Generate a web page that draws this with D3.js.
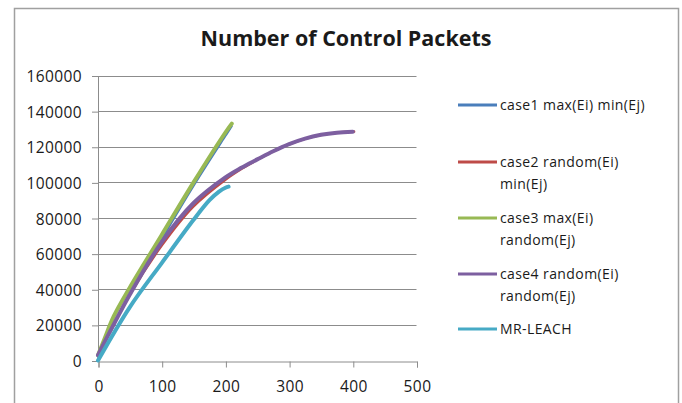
<!DOCTYPE html>
<html>
<head>
<meta charset="utf-8">
<script src="https://cdn.jsdelivr.net/npm/d3@7"></script>
<style>
  html, body { margin: 0; padding: 0; background: #fff; }
  svg { display: block; }
  text { font-family: "Open Sans", "Liberation Sans", Arial, sans-serif; fill: #1a1a1a; }
</style>
</head>
<body>
<svg id="chart" width="682" height="403"></svg>
<script>
// Rounds (x) vs cumulative control packets (y) for each scheme
const case1X = [0, 25, 50, 100, 150, 200, 210];
const case1Y = [2000, 20000, 37000, 68000, 98000, 126000, 131500];

const case2X = [0, 50, 100, 150, 200, 225, 250, 275, 300, 325, 350, 375, 402];
const case2Y = [3000, 37000, 64500, 86500, 101500, 107500, 112700, 117400, 121400, 124500, 126600, 127900, 128500];

const case3X = [0, 10, 25, 50, 100, 150, 200, 210];
const case3Y = [3000, 12000, 25000, 41000, 70500, 100000, 128000, 133000];

const case4X = [0, 50, 100, 150, 200, 225, 250, 275, 300, 325, 350, 375, 400];
const case4Y = [3000, 37000, 66500, 88400, 102800, 108200, 112900, 117500, 121500, 124600, 126700, 127900, 128400];

const leachX = [0, 50, 100, 150, 175, 190, 200, 205];
const leachY = [0, 30000, 54700, 79000, 90000, 94800, 97000, 97600];

const xTicks = [0, 100, 200, 300, 400, 500];
const yTicks = [0, 20000, 40000, 60000, 80000, 100000, 120000, 140000, 160000];

const seriesNames = ["case1 max(Ei) min(Ej)", "case2 random(Ei) min(Ej)", "case3 max(Ei) random(Ej)", "case4 random(Ei) random(Ej)", "MR-LEACH"];
const legendLines = [["case1 max(Ei) min(Ej)"], ["case2 random(Ei)", "min(Ej)"], ["case3 max(Ei)", "random(Ej)"], ["case4 random(Ei)", "random(Ej)"], ["MR-LEACH"]];
const colors = ["#4a7ebb", "#be4b48", "#98b954", "#7d5fa0", "#46aac5"];

const series = [
  { name: seriesNames[0], xs: case1X, ys: case1Y, color: colors[0], width: 2 },
  { name: seriesNames[1], xs: case2X, ys: case2Y, color: colors[1], width: 2.5 },
  { name: seriesNames[2], xs: case3X, ys: case3Y, color: colors[2], width: 4 },
  { name: seriesNames[3], xs: case4X, ys: case4Y, color: colors[3], width: 4 },
  { name: seriesNames[4], xs: leachX, ys: leachY, color: colors[4], width: 4 }
];

const svg = d3.select("#chart");

// Outer chart frame
svg.append("rect")
  .attr("x", 14.5).attr("y", 8.5)
  .attr("width", 664).attr("height", 420)
  .attr("fill", "#fff").attr("stroke", "#a0a0a0").attr("stroke-width", 1.5);

// Title
svg.append("text")
  .attr("x", 346).attr("y", 46)
  .attr("text-anchor", "middle")
  .style("font-weight", "bold")
  .style("font-size", "21.5px")
  .text("Number of Control Packets");

const x = d3.scaleLinear().domain([0, 500]).range([98, 416.5]);
const y = d3.scaleLinear().domain([0, 160000]).range([360.5, 75.5]);

// Horizontal gridlines
svg.append("g")
  .selectAll("line")
  .data(yTicks.filter(d => d > 0))
  .join("line")
  .attr("x1", x(0)).attr("x2", x(500))
  .attr("y1", d => Math.round(y(d)) + 0.5).attr("y2", d => Math.round(y(d)) + 0.5)
  .attr("stroke", "#8c8c8c").attr("stroke-width", 1);

// Y axis
const yAxis = svg.append("g")
  .attr("transform", `translate(${x(0)},0.5)`)
  .call(d3.axisLeft(y).tickValues(yTicks).tickFormat(d3.format("d")).tickSize(6).tickPadding(10));
yAxis.select(".domain").attr("stroke", "#8c8c8c");
yAxis.selectAll(".tick line").attr("stroke", "#8c8c8c");
yAxis.selectAll(".tick text")
  .style("font-size", "15.5px").style("letter-spacing", "0.4px")
  .attr("fill", "#1a1a1a").attr("dy", "0.36em");

// X axis
const xAxis = svg.append("g")
  .attr("transform", `translate(0.5,${Math.round(y(0)) + 0.5})`)
  .call(d3.axisBottom(x).tickValues(xTicks).tickFormat(d3.format("d")).tickSize(6).tickPadding(13));
xAxis.select(".domain").attr("stroke", "#8c8c8c");
xAxis.selectAll(".tick line").attr("stroke", "#8c8c8c");
xAxis.selectAll(".tick text")
  .style("font-size", "15.5px").style("letter-spacing", "0.4px")
  .attr("fill", "#1a1a1a");

// Series lines, later series drawn on top
const line = d3.line()
  .x(d => x(d[0]))
  .y(d => y(d[1]))
  .curve(d3.curveCatmullRom.alpha(0.5));

svg.append("g")
  .selectAll("path")
  .data(series)
  .join("path")
  .attr("d", s => line(s.xs.map((v, i) => [v, s.ys[i]])))
  .attr("fill", "none")
  .attr("stroke", s => s.color)
  .attr("stroke-width", s => s.width)
  .attr("stroke-linecap", "round")
  .attr("stroke-linejoin", "round");

// Legend
const legendY = [110, 167, 223, 279, 334];
const legend = svg.append("g");
legendLines.forEach((lines, i) => {
  const g = legend.append("g").attr("transform", `translate(0,${legendY[i]})`);
  g.append("line")
    .attr("x1", 458).attr("x2", 497)
    .attr("y1", -5).attr("y2", -5)
    .attr("stroke", colors[i]).attr("stroke-width", 3);
  lines.forEach((t, j) => {
    g.append("text")
      .attr("x", 500).attr("y", j * 22)
      .style("font-size", "14px")
      .style("letter-spacing", "0.4px")
      .text(t);
  });
});
</script>
</body>
</html>
